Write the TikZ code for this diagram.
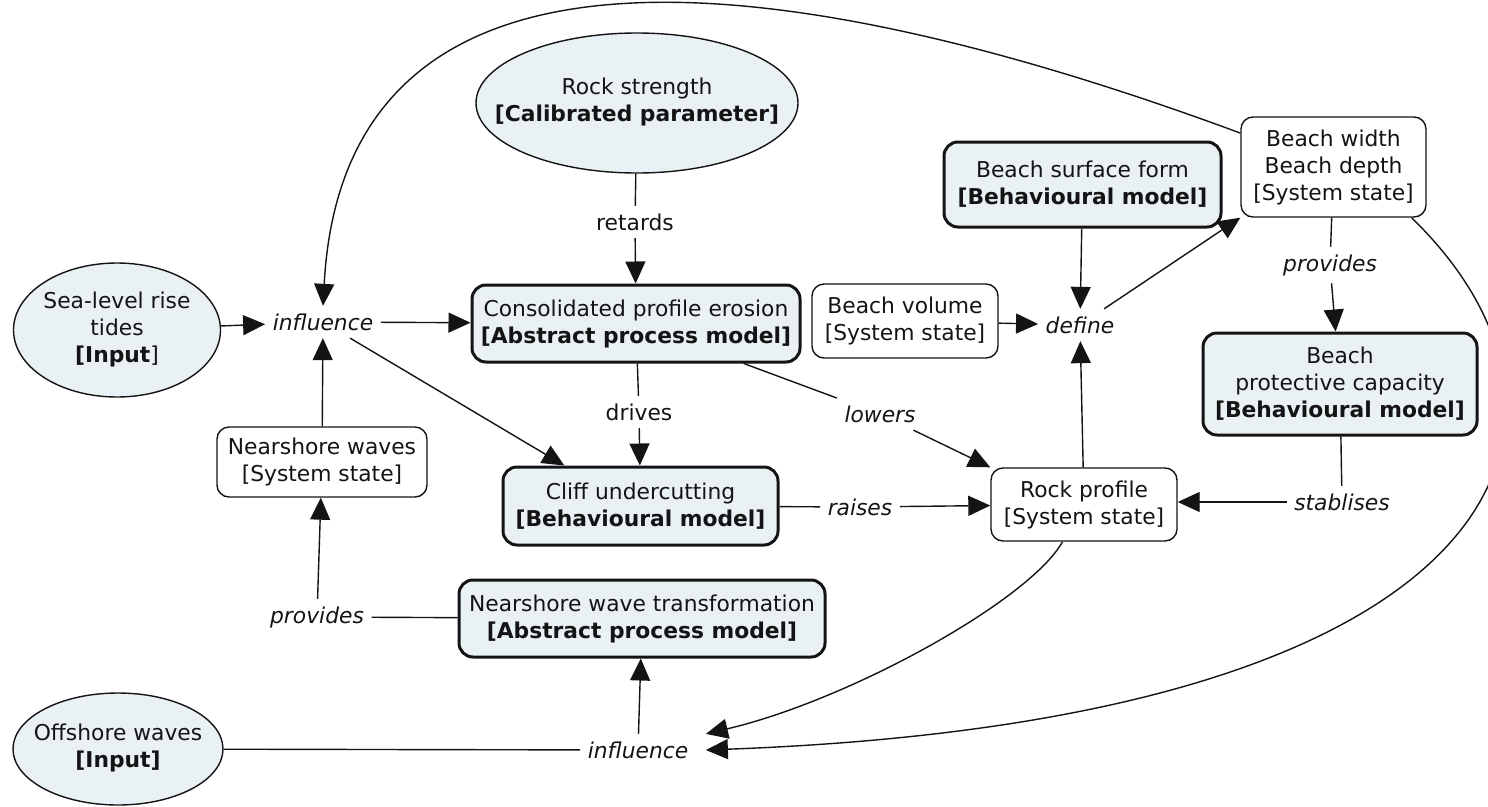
\documentclass[tikz,border=0pt]{standalone}
\usepackage{fontspec}
\setmainfont{DejaVu Sans}
\usetikzlibrary{arrows.meta, shapes.geometric}
\definecolor{cfill}{HTML}{EAF1F4}
\definecolor{cline}{HTML}{141414}
\newcommand{\mapfont}{\fontsize{21.8}{27}\selectfont}
\newcommand{\ovaltext}[1]{\makebox[0pt]{\begin{tabular}{@{}c@{}}#1\end{tabular}}}
\tikzset{
  every picture/.style={line width=1.4pt, color=cline},
  model/.style={draw, fill=cfill, rounded corners=14pt, line width=3pt, align=center, font=\mapfont, inner sep=0pt},
  state/.style={draw, fill=white, rounded corners=12pt, line width=1.4pt, align=center, font=\mapfont, inner sep=0pt},
  oval/.style={ellipse, draw, fill=cfill, line width=1.4pt, font=\mapfont, inner sep=0pt},
  link/.style={font=\mapfont\itshape, inner sep=7pt},
  verb/.style={font=\mapfont, inner sep=7pt},
  arrow/.style={-{Triangle[length=22pt, width=20pt]}},
}

\begin{document}
\begin{tikzpicture}[x=1pt, y=-1pt]
  \useasboundingbox (0,0) rectangle (1488,806);
  % inputs and parameter
  \node[oval, minimum width=322pt, minimum height=140pt] (rs) at (637,103) {\ovaltext{Rock strength\\ \textbf{[Calibrated parameter]}}};
  \node[oval, minimum width=207pt, minimum height=134pt] (sea) at (117,330) {\ovaltext{Sea-level rise\\ tides\\ \textbf{[Input}]}};
  \node[oval, minimum width=210pt, minimum height=112pt] (off) at (118,749) {\ovaltext{Offshore waves\\ \textbf{[Input]}}};
  % models
  \node[model, minimum width=328pt, minimum height=77pt] (cpe) at (636,323.5) {Consolidated profile erosion\\ \textbf{[Abstract process model]}};
  \node[model, minimum width=275pt, minimum height=78pt] (cliff) at (640.5,506) {Cliff undercutting\\ \textbf{[Behavioural model]}};
  \node[model, minimum width=366pt, minimum height=77pt] (nwt) at (642,618.5) {Nearshore wave transformation\\ \textbf{[Abstract process model]}};
  \node[model, minimum width=277pt, minimum height=85pt] (bsf) at (1082.5,184.5) {Beach surface form\\ \textbf{[Behavioural model]}};
  \node[model, minimum width=274pt, minimum height=102pt] (bpc) at (1340,384) {Beach\\ protective capacity\\ \textbf{[Behavioural model]}};
  % system states
  \node[state, minimum width=210pt, minimum height=70pt] (nsw) at (322,462) {Nearshore waves\\ {[System state]}};
  \node[state, minimum width=186pt, minimum height=74pt] (bvol) at (905,321) {Beach volume\\ {[System state]}};
  \node[state, minimum width=186pt, minimum height=73pt] (rockp) at (1084,504.5) {Rock profile\\ {[System state]}};
  \node[state, minimum width=185pt, minimum height=100pt] (bwidth) at (1333.5,167) {Beach width\\ Beach depth\\ {[System state]}};
  % linking words
  \node[link] (infl1) at (323,322) {influence};
  \node[link] (infl2) at (638,750) {influence};
  \node[verb] (ret) at (635,222) {retards};
  \node[verb] (drv) at (639,412) {drives};
  \node[link] (low) at (880,414) {lowers};
  \node[link] (rai) at (860,507) {raises};
  \node[link] (def) at (1080,325) {define};
  \node[link] (prov2) at (1330,265) {provides};
  \node[link] (stab) at (1342,502) {stablises};
  \node[link] (prov1) at (317,617) {provides};

  \draw[arrow] (sea) -- (infl1);
  \draw[arrow] (infl1) -- (cpe);
  \draw[arrow] (infl1) -- (cliff.152);
  \draw[arrow] (nsw) -- (infl1);
  \draw (rs) -- (ret);
  \draw[arrow] (ret) -- (cpe);
  \draw (cpe) -- (drv);
  \draw[arrow] (drv) -- (cliff);
  \draw (cpe) -- (low);
  \draw[arrow] (low) -- (rockp.north west);
  \draw (cliff) -- (rai);
  \draw[arrow] (rai) -- (rockp);
  \draw[arrow] (bvol) -- (def);
  \draw[arrow] (bsf) -- (def);
  \draw[arrow] (rockp) -- (def);
  \draw[arrow] (def) -- (bwidth.south west);
  \draw (bwidth) -- (prov2);
  \draw[arrow] (prov2) -- (bpc);
  \draw (bpc) -- (stab);
  \draw[arrow] (stab) -- (stab -| rockp.east);
  \draw (nwt) -- (prov1);
  \draw[arrow] (prov1) -- (nsw);
  \draw (off) -- (infl2);
  \draw[arrow] (infl2) -- (nwt);
  % long curved links
  \draw[arrow] (bwidth.160) .. controls (800,-30) and (345,-100) .. (infl1.north);
  \draw[arrow] (rockp.240) .. controls (1030,600) and (850,700) .. ([xshift=10pt]infl2.north east);
  \draw[arrow] (bwidth.-33) .. controls (1620,420) and (1520,720) .. ([xshift=10pt]infl2.east);
\end{tikzpicture}
\end{document}
